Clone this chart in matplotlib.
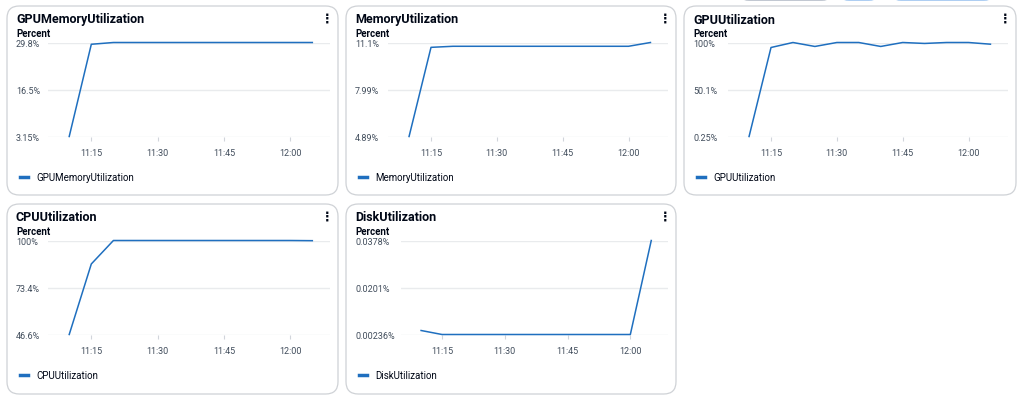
import matplotlib
matplotlib.use("Agg")
import matplotlib.pyplot as plt
from matplotlib.patches import FancyBboxPatch

plt.rcParams['font.family'] = ['Roboto', 'DejaVu Sans']

# tiempo en minutos después de las 11:00, cada 5 minutos (11:10 ... 12:05)
times = [10, 15, 20, 25, 30, 35, 40, 45, 50, 55, 60, 65]
x_ticks = [15, 30, 45, 60]
x_labels = ["11:15", "11:30", "11:45", "12:00"]

gpu_mem = [3.15, 29.3, 29.8, 29.8, 29.8, 29.8, 29.8, 29.8, 29.8, 29.8, 29.8, 29.8]
gpu_mem_ticks = [3.15, 16.475, 29.8]
gpu_mem_labels = ["3.15%", "16.5%", "29.8%"]

mem = [4.89, 10.78, 10.85, 10.85, 10.85, 10.85, 10.85, 10.85, 10.85, 10.85, 10.85, 11.1]
mem_ticks = [4.89, 7.995, 11.1]
mem_labels = ["4.89%", "7.99%", "11.1%"]

gpu = [0.25, 94.7, 100, 95.8, 100, 100, 95.8, 100, 99.0, 100, 100, 98.2]
gpu_ticks = [0.25, 50.125, 100]
gpu_labels = ["0.25%", "50.1%", "100%"]

cpu = [46.7, 86.7, 100, 100, 100, 100, 100, 100, 100, 100, 100, 99.9]
cpu_ticks = [46.7, 73.35, 100]
cpu_labels = ["46.6%", "73.4%", "100%"]

disk = [0.00387, 0.00236, 0.00236, 0.00236, 0.00236, 0.00236, 0.00236, 0.00236,
        0.00236, 0.00236, 0.00236, 0.0378]
disk_ticks = [0.00236, 0.02008, 0.0378]
disk_labels = ["0.00236%", "0.0201%", "0.0378%"]

W, H = 1024, 410
fig = plt.figure(figsize=(W / 100, H / 100), dpi=100)

def fx(px):
    return px / W

def fy(py):
    return 1 - py / H

LINE = "#1f6fbf"
GRID = "#e9ebed"
TXT = "#000716"
TICK = "#414d5c"

# botones cortados arriba a la derecha
for x0, x1, ec in [(743, 828, "#b6bec9"), (843, 875, "#9ec5f0"), (895, 990, "#9ec5f0")]:
    fig.patches.append(FancyBboxPatch((fx(x0), fy(1)), fx(x1 - x0), 12 / H,
                                      boxstyle="round,pad=0,rounding_size=0.006",
                                      transform=fig.transFigure, fc="white",
                                      ec=ec, lw=1.2, zorder=-2))

# (titulo, valores, ticks, etiquetas, panel izq, panel der, panel arriba, panel abajo, inicio grid)
panels = [
    ("GPUMemoryUtilization", gpu_mem, gpu_mem_ticks, gpu_mem_labels, 7, 338, 7, 196, 48),
    ("MemoryUtilization", mem, mem_ticks, mem_labels, 346, 676, 7, 196, 388),
    ("GPUUtilization", gpu, gpu_ticks, gpu_labels, 684, 1016, 7, 196, 728),
    ("CPUUtilization", cpu, cpu_ticks, cpu_labels, 7, 338, 205, 395, 48),
    ("DiskUtilization", disk, disk_ticks, disk_labels, 346, 676, 205, 395, 401),
]

for title, vals, yt, yl, pl, pr, pt, pb, gl in panels:
    # tarjeta
    fig.patches.append(FancyBboxPatch((fx(pl), fy(pb)), fx(pr - pl), (pb - pt) / H,
                                      boxstyle="round,pad=0,rounding_size=0.012",
                                      transform=fig.transFigure, fc="white",
                                      ec="#cfd2d6", lw=0.9, mutation_aspect=W / H,
                                      zorder=-2))
    fig.text(fx(pl + 9), fy(pt + 13), title, fontsize=9, fontweight="bold",
             color=TXT, va="center", ha="left")
    fig.text(fx(pl + 9), fy(pt + 27), "Percent", fontsize=7, fontweight="bold",
             color=TXT, va="center", ha="left")
    fig.text(fx(pr - 11), fy(pt + 12), "\u22ee", fontsize=9, fontweight="bold",
             color=TXT, va="center", ha="center", family=["DejaVu Sans"])

    gr = pr - 8
    gt = pt + 36.5
    gb = pt + 130.5
    ax = fig.add_axes([fx(gl), fy(gb), fx(gr - gl), (gb - gt) / H])
    ax.patch.set_alpha(0)
    ax.plot(times, vals, color=LINE, lw=1.1, clip_on=False, label=title)
    ax.set_xlim(5.2, 69.0)
    ax.set_ylim(yt[0], yt[-1])
    ax.set_yticks(yt)
    ax.set_yticklabels(yl)
    ax.set_xticks(x_ticks)
    ax.set_xticklabels(x_labels)
    for s in ax.spines.values():
        s.set_visible(False)
    ax.grid(axis="y", color=GRID, lw=1.0)
    ax.set_axisbelow(True)
    pad_px = gl - (pl + 9)
    ax.tick_params(axis="y", length=0, pad=pad_px * 0.72, labelsize=6.5, labelcolor=TICK)
    for lab in ax.get_yticklabels():
        lab.set_ha("left")
    ax.tick_params(axis="x", length=3, width=0.8, color="#d1d5db", pad=5,
                   labelsize=6.5, labelcolor=TICK)
    leg = ax.legend(loc="center left", bbox_to_anchor=(fx(pl + 13), fy(pt + 171)),
                    bbox_transform=fig.transFigure, frameon=False, fontsize=7,
                    handlelength=0.8, handletextpad=0.9, borderpad=0, borderaxespad=0)
    for h in leg.get_lines():
        h.set_linewidth(2.5)
    for t in leg.get_texts():
        t.set_color(TXT)

fig.savefig("out.png", dpi=100, facecolor="white")
